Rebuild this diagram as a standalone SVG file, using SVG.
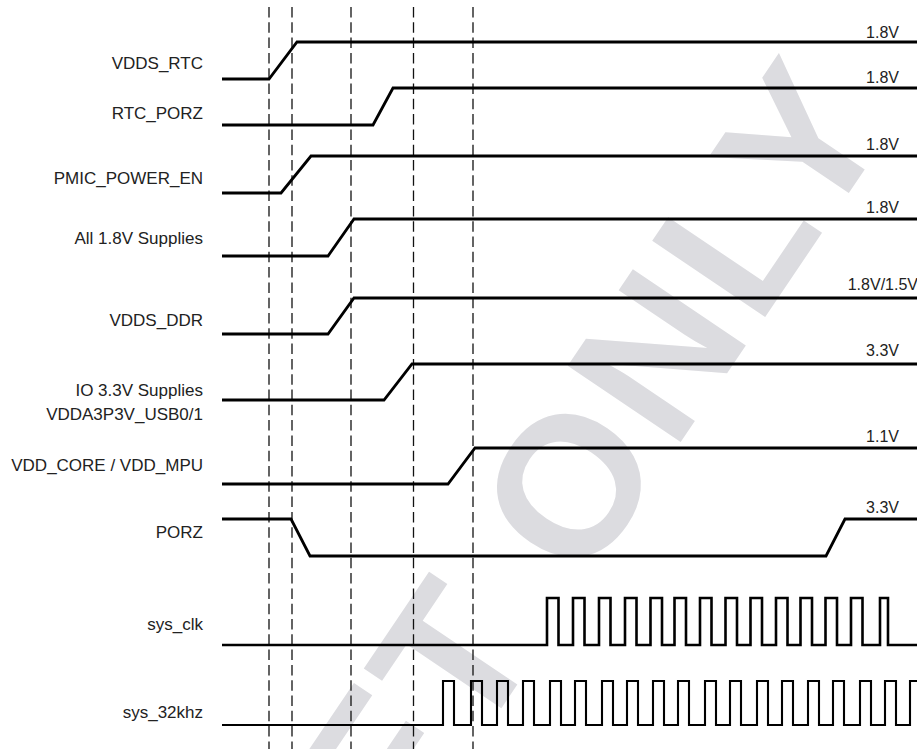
<svg xmlns="http://www.w3.org/2000/svg" width="917" height="749" viewBox="0 0 917 749">
<style>
.lbl{font-family:"Liberation Sans",Arial,sans-serif;font-size:17px;fill:#222;text-anchor:end}
.val{font-family:"Liberation Sans",Arial,sans-serif;font-size:16px;fill:#222;text-anchor:end}
.sig{fill:none;stroke:#000;stroke-width:2.8;stroke-linejoin:miter}
.clk{fill:none;stroke:#000;stroke-width:2.6}
.clk32{fill:none;stroke:#000;stroke-width:2.1}
.mark{stroke:#111;stroke-width:1.3;stroke-dasharray:10.5 4.8}
.wm{font-family:"Liberation Sans",Arial,sans-serif;font-weight:bold;font-size:198px;letter-spacing:8px;fill:#dcdce0}
</style>
<rect width="917" height="749" fill="#fff"/>
<g id="watermark">
<text class="wm" x="150" y="1229" transform="rotate(-56 150 1229)">DRAFT ONLY</text>
</g>
<g id="connectors">
<line class="mark" x1="269" y1="7" x2="269" y2="749"/>
<line class="mark" x1="292" y1="7" x2="292" y2="749"/>
<line class="mark" x1="351" y1="7" x2="351" y2="749"/>
<line class="mark" x1="413.5" y1="7" x2="413.5" y2="749"/>
<line class="mark" x1="473" y1="7" x2="473" y2="749"/>
</g>
<g id="vdds_rtc">
<text class="lbl" x="203" y="69">VDDS_RTC</text>
<path class="sig" d="M222 79 H269 L297 42 H917"/>
<text class="val" x="899" y="38">1.8V</text>
</g>
<g id="rtc_porz">
<text class="lbl" x="203" y="119">RTC_PORZ</text>
<path class="sig" d="M222 125 H373 L393 88 H917"/>
<text class="val" x="899" y="83">1.8V</text>
</g>
<g id="pmic_power_en">
<text class="lbl" x="203" y="184">PMIC_POWER_EN</text>
<path class="sig" d="M222 193 H281 L311 156 H917"/>
<text class="val" x="899" y="150">1.8V</text>
</g>
<g id="all_18v">
<text class="lbl" x="203" y="244">All 1.8V Supplies</text>
<path class="sig" d="M222 256 H328 L354 219 H917"/>
<text class="val" x="899" y="213">1.8V</text>
</g>
<g id="vdds_ddr">
<text class="lbl" x="203" y="326">VDDS_DDR</text>
<path class="sig" d="M222 334 H328 L354 298 H917"/>
<text class="val" x="918" y="290">1.8V/1.5V</text>
</g>
<g id="io_33v">
<text class="lbl" x="203" y="396">IO 3.3V Supplies</text>
<text class="lbl" x="203" y="420">VDDA3P3V_USB0/1</text>
<path class="sig" d="M222 400 H384 L412 364 H917"/>
<text class="val" x="899" y="356">3.3V</text>
</g>
<g id="vdd_core">
<text class="lbl" x="203" y="471">VDD_CORE / VDD_MPU</text>
<path class="sig" d="M222 484 H448 L475 448 H917"/>
<text class="val" x="899" y="442">1.1V</text>
</g>
<g id="porz">
<text class="lbl" x="203" y="538">PORZ</text>
<path class="sig" d="M222 519 H291 L310 556 H826 L845 519 H917"/>
<text class="val" x="899" y="513">3.3V</text>
</g>
<g id="sys_clk">
<text class="lbl" x="203" y="630">sys_clk</text>
<path class="clk" d="M222 645 H547 V598 H558.5 V645 H573 V598 H584.5 V645 H599 V598 H610.5 V645 H625 V598 H636.5 V645 H650.5 V598 H662 V645 H674.5 V598 H686 V645 H700 V598 H711.5 V645 H725.5 V598 H737 V645 H750.5 V598 H762 V645 H776 V598 H787.5 V645 H800.5 V598 H812 V645 H825.5 V598 H837 V645 H851 V598 H862.5 V645 H880 V598 H888 V645 H917"/>
</g>
<g id="sys_32khz">
<text class="lbl" x="203" y="718">sys_32khz</text>
<path class="clk32" d="M222 725 H443 V681 H454 V725 H471 V681 H482 V725 H497 V681 H508 V725 H523 V681 H534 V725 H550 V681 H561 V725 H575 V681 H586 V725 H602 V681 H613 V725 H627 V681 H638 V725 H653 V681 H664 V725 H678 V681 H689 V725 H705 V681 H716 V725 H730 V681 H741 V725 H757 V681 H768 V725 H782 V681 H793 V725 H808 V681 H819 V725 H833 V681 H844 V725 H860 V681 H871 V725 H885 V681 H896 V725 H910 V681 H917"/>
</g>
</svg>
